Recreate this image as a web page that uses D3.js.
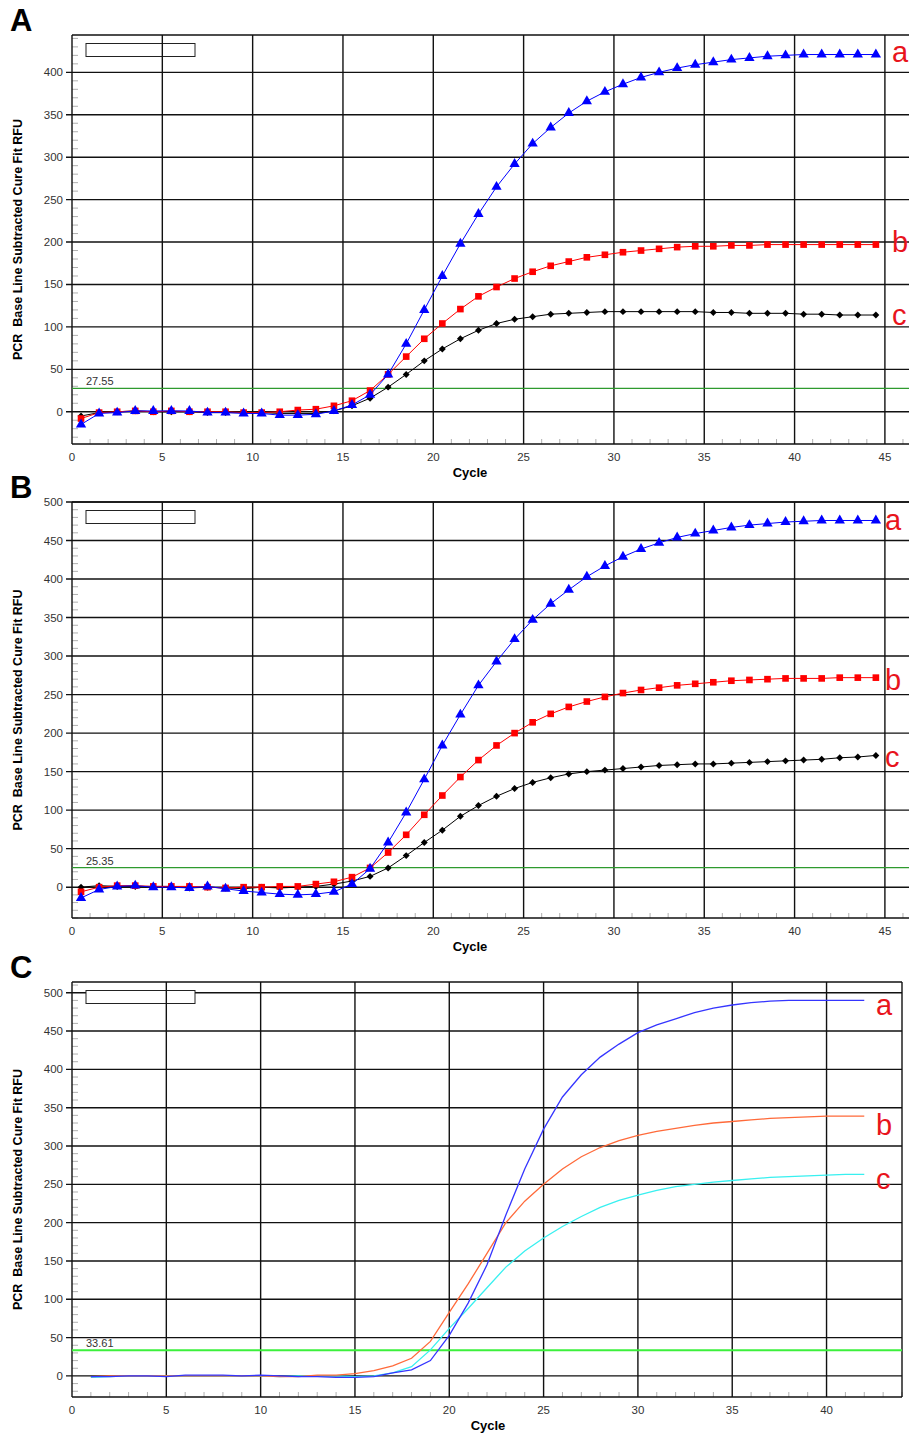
<html>
<head>
<script src="https://cdn.jsdelivr.net/npm/d3@7"></script>
<style>
  body { margin: 0; background: #fff; }
  svg text { font-family: "Liberation Sans", Arial, sans-serif; }
</style>
</head>
<body>
<svg id="chart" width="909" height="1435"></svg>
<script>
// cycles for panels A and B (markers sit half way between integer cycles)
var cyclesAB = d3.range(0.5, 45, 1);
var cyclesC = d3.range(1, 43, 1);

// Panel A
var aA = [-15,-2,-1,1,1,1,1,-1,-1,-2,-2,-4,-4,-3,1,8,20,44,80,120,160,198,233,265,292,316,335,352,366,377,386,394,400,405,409,412,415,417,419,420,421,421,421,421,421];
var bA = [-8,-1,0,1,0,1,0,0,0,-1,-1,0,2,3,7,13,25,44,65,86,104,121,136,147,157,165,172,177,182,185,188,190,192,194,195,195,196,196,197,197,197,197,197,197,197];
var cA = [-5,-1,0,1,0,0,0,-1,-1,-1,-1,-2,-2,-2,1,7,16,29,44,60,74,86,96,104,109,112,115,116,117,118,118,118,118,118,118,117,117,116,116,116,115,115,114,114,114];

// Panel B
var aB = [-14,-3,1,2,0,0,-1,1,-2,-5,-7,-9,-10,-9,-6,4,24,58,97,140,184,224,262,293,322,347,368,386,403,417,429,439,447,454,459,463,467,470,472,474,475,476,476,476,476];
var bB = [-6,0,2,2,1,1,1,0,-1,0,0,1,1,4,7,13,25,45,68,94,119,143,165,184,200,214,225,234,241,247,252,256,259,262,264,266,268,269,270,271,271,271,272,272,272];
var cB = [0,2,1,1,1,1,-1,0,-1,-2,0,-1,0,1,4,8,14,25,41,58,74,92,106,118,128,136,142,147,150,152,154,156,158,159,160,160,161,162,163,164,165,166,168,169,171];

// Panel C
var aC = [-1,-1,0,0,-1,1,1,1,0,1,0,-1,-1,-2,-2,-1,4,8,20,53,95,145,210,270,322,364,393,416,433,448,458,466,474,480,484,487,489,490,490,490,490,490];
var bC = [-1,0,0,0,0,0,0,0,0,0,-1,-1,1,1,3,7,13,23,45,83,120,160,200,228,250,270,286,298,307,314,319,323,327,330,332,334,336,337,338,339,339,339];
var cC = [-2,-1,0,0,0,0,0,0,0,0,-1,0,0,0,-1,0,4,12,34,62,88,115,142,163,180,195,208,220,229,236,242,247,250,253,255,257,259,260,261,262,263,263];

var panelNames = ["A", "B", "C"];
var thresholds = [27.55, 25.35, 33.61];
var seriesNames = ["a", "b", "c"];
var yTicksA = d3.range(0, 401, 50);
var yTicksBC = d3.range(0, 501, 50);
var xTicksAB = d3.range(0, 46, 5);
var xTicksC = d3.range(0, 41, 5);

var svg = d3.select("#chart");
var yTitle = "PCR\u00a0\u00a0Base Line Subtracted Cure Fit RFU";

function drawPanel(p) {
  var g = svg.append("g");
  var x = d3.scaleLinear().domain(p.xDomain).range([p.left, p.right]);
  var y = d3.scaleLinear().domain(p.yDomain).range([p.bottom, p.top]);

  // panel letter
  g.append("text").attr("x", 10).attr("y", p.top - 4)
    .attr("font-size", 31).attr("font-weight", "bold").text(p.name);

  // minor ticks
  g.selectAll(".mx").data(d3.range(1, Math.floor(p.xDomain[1]) + 1).filter(function (d) { return d % 5; }))
    .enter().append("line")
    .attr("x1", function (d) { return x(d); }).attr("x2", function (d) { return x(d); })
    .attr("y1", p.bottom).attr("y2", p.bottom - 5)
    .attr("stroke", "#b0b0b0").attr("stroke-width", 1);
  g.selectAll(".my").data(d3.range(Math.ceil(p.yDomain[0] / 10) * 10, p.yDomain[1], 10).filter(function (d) { return d % 50; }))
    .enter().append("line")
    .attr("x1", p.left).attr("x2", p.left + 6)
    .attr("y1", function (d) { return y(d); }).attr("y2", function (d) { return y(d); })
    .attr("stroke", "#b0b0b0").attr("stroke-width", 1);

  // horizontal grid
  g.selectAll(".gy").data(p.yTicks).enter().append("line")
    .attr("x1", p.left - 6).attr("x2", p.right)
    .attr("y1", function (d) { return y(d); }).attr("y2", function (d) { return y(d); })
    .attr("stroke", "#111").attr("stroke-width", 1.4);
  g.selectAll(".ty").data(p.yTicks).enter().append("text")
    .attr("x", p.left - 9).attr("y", function (d) { return y(d) + 4; })
    .attr("text-anchor", "end").attr("font-size", 11.5).attr("fill", "#333")
    .text(function (d) { return d; });

  // legend box
  g.append("rect").attr("x", 86).attr("y", p.boxY).attr("width", 109).attr("height", 13)
    .attr("fill", "#fff").attr("stroke", "#222").attr("stroke-width", 1);

  // vertical grid
  g.selectAll(".gx").data(p.xTicks.filter(function (d) { return d > 0; })).enter().append("line")
    .attr("x1", function (d) { return x(d); }).attr("x2", function (d) { return x(d); })
    .attr("y1", p.top).attr("y2", p.bottom)
    .attr("stroke", "#111").attr("stroke-width", 1.4);
  g.selectAll(".tx").data(p.xTicks).enter().append("text")
    .attr("x", function (d) { return x(d); }).attr("y", p.bottom + 17)
    .attr("text-anchor", "middle").attr("font-size", 11.5).attr("fill", "#333")
    .text(function (d) { return d; });

  // frame
  g.append("line").attr("x1", p.left).attr("x2", p.left).attr("y1", p.top).attr("y2", p.bottom)
    .attr("stroke", "#111").attr("stroke-width", 1.4);
  g.append("line").attr("x1", p.left).attr("x2", p.right).attr("y1", p.top).attr("y2", p.top)
    .attr("stroke", "#111").attr("stroke-width", 1.4);
  g.append("line").attr("x1", p.left).attr("x2", p.right).attr("y1", p.bottom).attr("y2", p.bottom)
    .attr("stroke", "#111").attr("stroke-width", 1.4);
  if (p.rightBorder) {
    g.append("line").attr("x1", p.right).attr("x2", p.right).attr("y1", p.top).attr("y2", p.bottom)
      .attr("stroke", "#111").attr("stroke-width", 1.4);
  }

  // threshold
  g.append("line").attr("x1", p.left).attr("x2", p.right)
    .attr("y1", y(p.threshold)).attr("y2", y(p.threshold))
    .attr("stroke", p.thrColor).attr("stroke-width", p.thrWidth);
  g.append("text").attr("x", 86).attr("y", y(p.threshold) - 3)
    .attr("font-size", 11).attr("fill", "#333").text(p.threshold.toFixed(2));

  // axis titles
  g.append("text").attr("x", p.cycleX).attr("y", p.bottom + 33)
    .attr("text-anchor", "middle").attr("font-size", 13).attr("font-weight", "bold").text("Cycle");
  g.append("text").attr("transform", "translate(22," + ((p.top + p.bottom) / 2) + ") rotate(-90)")
    .attr("text-anchor", "middle").attr("font-size", 12.5).attr("font-weight", "bold").text(yTitle);

  // series
  var line = d3.line().x(function (d) { return x(d[0]); }).y(function (d) { return y(d[1]); });
  p.series.forEach(function (s) {
    var pts = p.cycles.map(function (c, i) { return [c, s.values[i]]; });
    g.append("path").datum(pts).attr("d", line)
      .attr("fill", "none").attr("stroke", s.color).attr("stroke-width", s.width || 1);
    if (s.symbol) {
      g.selectAll(null).data(pts).enter().append("path")
        .attr("transform", function (d) { return "translate(" + x(d[0]) + "," + y(d[1]) + ")" + (s.rot ? " rotate(45)" : ""); })
        .attr("d", d3.symbol().type(s.symbol).size(s.size))
        .attr("fill", s.color);
    }
  });

  // series letters
  seriesNames.forEach(function (n, i) {
    g.append("text").attr("x", p.labelX).attr("y", p.labelY[i])
      .attr("font-size", 29).attr("fill", "#e8141c").text(n);
  });
}

var markerSeries = function (a, b, c) {
  return [
    { values: c, color: "#000", symbol: d3.symbolSquare, size: 24, rot: true },
    { values: b, color: "#ff0000", symbol: d3.symbolSquare, size: 44 },
    { values: a, color: "#0000ff", symbol: d3.symbolTriangle, size: 46 }
  ];
};

drawPanel({
  name: panelNames[0], left: 72, right: 912, top: 35, bottom: 444,
  xDomain: [0, 46.5], yDomain: [-38, 444], xTicks: xTicksAB, yTicks: yTicksA,
  boxY: 43.5, threshold: thresholds[0], thrColor: "#2e9a2e", thrWidth: 1.2,
  cycleX: 470, cycles: cyclesAB, series: markerSeries(aA, bA, cA),
  labelX: 892, labelY: [62, 252, 325], rightBorder: false
});
drawPanel({
  name: panelNames[1], left: 72, right: 912, top: 502, bottom: 918,
  xDomain: [0, 46.5], yDomain: [-40, 500], xTicks: xTicksAB, yTicks: yTicksBC,
  boxY: 510.5, threshold: thresholds[1], thrColor: "#2e9a2e", thrWidth: 1.2,
  cycleX: 470, cycles: cyclesAB, series: markerSeries(aB, bB, cB),
  labelX: 885, labelY: [530, 690, 767], rightBorder: false
});
drawPanel({
  name: panelNames[2], left: 72, right: 902, top: 982, bottom: 1397,
  xDomain: [0, 44], yDomain: [-27.5, 514], xTicks: xTicksC, yTicks: yTicksBC,
  boxY: 990.5, threshold: thresholds[2], thrColor: "#3cf03c", thrWidth: 2,
  cycleX: 488, cycles: cyclesC,
  series: [
    { values: cC, color: "#38f0f0", width: 1.3 },
    { values: bC, color: "#ff6a3a", width: 1.3 },
    { values: aC, color: "#3535ff", width: 1.3 }
  ],
  labelX: 876, labelY: [1015, 1135, 1189], rightBorder: true
});
</script>
</body>
</html>
